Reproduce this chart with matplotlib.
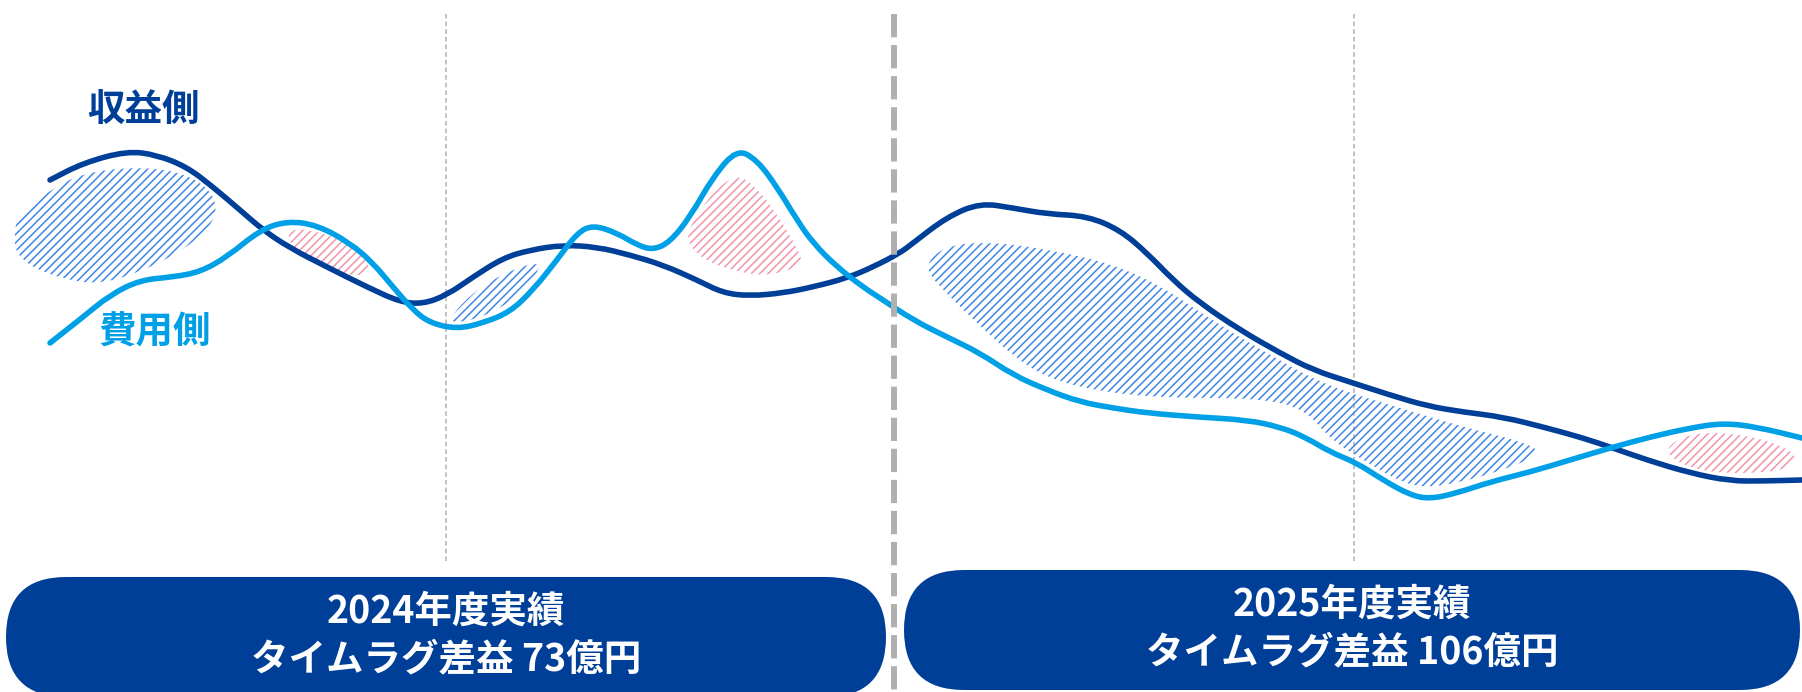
import numpy as np
import matplotlib
matplotlib.use("Agg")
from matplotlib import pyplot as plt
from matplotlib.path import Path
from matplotlib.patches import PathPatch, FancyBboxPatch

plt.rcParams["font.family"] = ["Noto Sans CJK JP", "DejaVu Sans"]
plt.rcParams["hatch.linewidth"] = 1.1

DARK = "#003f98"
LIGHT = "#00a0e6"
HATCH_BLUE = "#3f86e8"
HATCH_PINK = "#f294ab"
GRAY = "#b0b0b0"

# revenue side (dark line)
rev_x = [50, 83, 127, 157, 187, 213, 240, 263, 290, 327, 367, 400, 423, 447,
         473, 503, 530, 563, 597, 630, 663, 697, 723, 750, 783, 813, 847, 873,
         900, 913, 947, 980, 1013, 1047, 1087, 1120, 1147, 1173, 1200, 1240,
         1280, 1313, 1350, 1390, 1427, 1463, 1503, 1547, 1583, 1613, 1647,
         1690, 1730, 1763, 1802]
rev_y = [180, 163, 151, 155, 167, 187, 210, 230, 248, 267, 287, 302, 304, 295,
         277, 258, 250, 245, 247, 255, 265, 280, 293, 296, 293, 287, 278, 267,
         253, 243, 217, 203, 208, 214, 216, 230, 253, 280, 303, 330,
         353, 370, 382, 395, 406, 412, 417, 428, 438, 448, 460,
         473, 481, 481, 480]

# cost side (light line)
cost_x = [50, 83, 110, 140, 173, 200, 227, 260, 287, 317, 350, 373, 393, 413,
          430, 457, 483, 510, 533, 557, 577, 593, 617, 637, 653, 670, 690, 713,
          737, 757, 777, 797, 813, 837, 863, 880, 913, 947, 980, 1013, 1047,
          1080, 1113, 1147, 1197, 1247, 1280, 1305, 1330, 1357, 1383, 1410,
          1430, 1457, 1490, 1530, 1570, 1610, 1650, 1690, 1723, 1757, 1802]
cost_y = [343, 317, 295, 280, 277, 272, 257, 230, 221, 225, 243, 263, 287, 310,
          323, 329, 323, 312, 290, 260, 233, 225, 233, 245, 250, 242, 217, 177,
          149, 160, 187, 220, 243, 267, 287, 298, 320, 337, 353, 375, 390,
          402, 408, 413, 417, 420, 427, 437, 452, 463, 480, 495,
          499, 493, 482, 472, 460, 448, 437, 428, 423, 427, 438]

# hatched gap areas (outline points)
gain_1 = [(14, 240), (17, 215), (50, 190), (83, 173), (133, 167), (177, 171),
          (207, 186), (218, 207), (209, 229), (180, 252), (140, 272),
          (100, 284), (67, 280), (33, 268), (17, 254)]
loss_1 = [(287, 233), (300, 228), (333, 236), (360, 251), (373, 272),
          (350, 277), (317, 263), (292, 247)]
gain_2 = [(448, 320), (470, 295), (500, 275), (535, 262), (541, 268),
          (520, 295), (490, 314), (460, 323)]
loss_2 = [(737, 175), (753, 184), (775, 211), (798, 249), (803, 265),
          (770, 276), (737, 272), (703, 260), (685, 240), (695, 217),
          (717, 188)]
gain_3 = [(930, 258), (950, 245), (990, 242), (1047, 249), (1113, 264),
          (1163, 287), (1213, 321), (1280, 361), (1330, 387), (1397, 407),
          (1463, 427), (1520, 441), (1543, 452), (1515, 466), (1463, 482),
          (1423, 488), (1397, 480), (1363, 460), (1330, 439), (1305, 409),
          (1260, 398), (1163, 398), (1097, 391), (1047, 378), (1013, 356),
          (980, 326), (947, 294), (927, 272)]
loss_3 = [(1664, 450), (1683, 436), (1713, 432), (1757, 437), (1796, 452),
          (1793, 467), (1763, 473), (1713, 473), (1680, 464)]

div_minor = [446, 1354]
div_major = 894

box_left = "2024年度実績\nタイムラグ差益 73億円"
box_right = "2025年度実績\nタイムラグ差益 106億円"


def smooth_path(pts, closed=False):
    """quadratic curve path, read points used as control points"""
    p = np.array(pts, dtype=float)
    mids = (p[:-1] + p[1:]) / 2
    if closed:
        p = np.vstack([p, p[:1]])
        mids = (p[:-1] + p[1:]) / 2
        verts = [mids[-1]]
        codes = [Path.MOVETO]
        for i in range(len(mids)):
            verts += [p[i], mids[i]]
            codes += [Path.CURVE3, Path.CURVE3]
        return Path(verts, codes)
    verts = [p[0], mids[0]]
    codes = [Path.MOVETO, Path.LINETO]
    for i in range(1, len(p) - 1):
        verts += [p[i], mids[i]]
        codes += [Path.CURVE3, Path.CURVE3]
    verts.append(p[-1])
    codes.append(Path.LINETO)
    return Path(verts, codes)


fig = plt.figure(figsize=(18.02, 6.92), dpi=100)
ax = fig.add_axes([0, 0, 1, 1])
ax.set_xlim(0, 1802)
ax.set_ylim(692, 0)
ax.axis("off")

for x in div_minor:
    ax.plot([x, x], [14, 563], color=GRAY, lw=1.1, dashes=(3, 2), zorder=0)

# hatches are drawn in screen space
for pts in [gain_1, gain_2, gain_3]:
    ax.add_patch(PathPatch(smooth_path(pts, closed=True), facecolor="none",
                           edgecolor=HATCH_BLUE, linewidth=0,
                           hatch="////", zorder=1))
for pts in [loss_1, loss_2, loss_3]:
    ax.add_patch(PathPatch(smooth_path(pts, closed=True), facecolor="none",
                           edgecolor=HATCH_PINK, linewidth=0,
                           hatch="////", zorder=1))

for xs, ys, col in [(rev_x, rev_y, DARK), (cost_x, cost_y, LIGHT)]:
    ax.add_patch(PathPatch(smooth_path(list(zip(xs, ys))), fill=False,
                           edgecolor=col, linewidth=4.0, capstyle="round",
                           joinstyle="round", zorder=3))

ax.plot([div_major, div_major], [14, 692], color=GRAY, lw=4.3,
        dashes=(3.9, 1.3), zorder=4)

ax.text(143, 109, "収益側", color=DARK, fontsize=27, fontweight="bold",
        ha="center", va="center")
ax.text(155, 332, "費用側", color=LIGHT, fontsize=27, fontweight="bold",
        ha="center", va="center")

for (x0, x1, y0, y1), label in [((6, 886, 577, 697), box_left),
                                ((904, 1800, 570, 690), box_right)]:
    h = y1 - y0
    box = FancyBboxPatch((x0, y0), x1 - x0, h,
                         boxstyle=f"round,pad=0,rounding_size={h / 2}",
                         facecolor=DARK, edgecolor="none", zorder=5)
    ax.add_patch(box)
    ax.text((x0 + x1) / 2, y0 + 58, label, color="white", fontsize=27,
            fontweight="bold", ha="center", va="center", linespacing=1.25,
            zorder=6)

fig.savefig("out.png", dpi=100)
